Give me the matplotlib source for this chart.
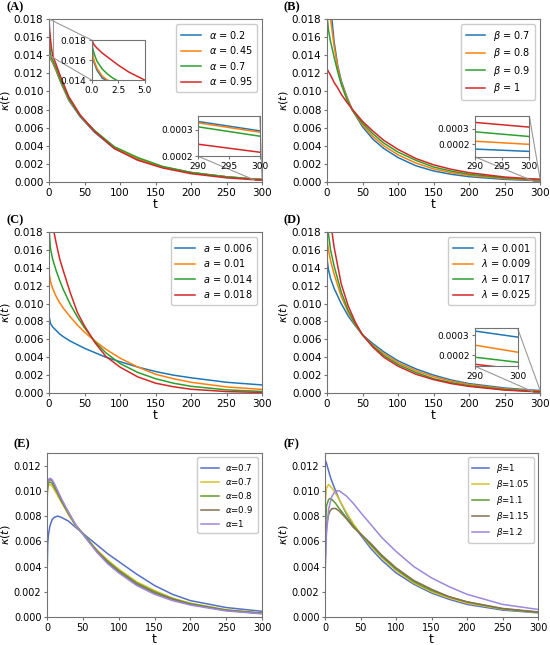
import numpy as np
import matplotlib
matplotlib.use('Agg')
import matplotlib.pyplot as plt
from matplotlib.ticker import FormatStrFormatter
from mpl_toolkits.axes_grid1.inset_locator import mark_inset

# ---- panel A: alpha ----
tA = [0, 0.1, 0.25, 0.5, 1, 1.5, 2, 2.5, 3.5, 5, 10, 16, 28, 44, 64, 92, 125, 160, 200, 250, 290, 300]
kA_02 = [0.0185, 0.0163, 0.0157, 0.0150, 0.0142, 0.0139, 0.0137, 0.0136, 0.0134, 0.0132, 0.0123, 0.0111,
         0.0090, 0.0072, 0.0055, 0.0037, 0.0025, 0.00166, 0.00104, 0.00058, 0.00033, 0.000295]
kA_045 = [0.0185, 0.0165, 0.0159, 0.0152, 0.0144, 0.0140, 0.0138, 0.0137, 0.0135, 0.0133, 0.0124, 0.0112,
          0.0091, 0.0073, 0.0056, 0.0038, 0.0026, 0.00167, 0.00104, 0.00057, 0.000325, 0.00029]
kA_07 = [0.0185, 0.0172, 0.0166, 0.0159, 0.0151, 0.0146, 0.0142, 0.0139, 0.0137, 0.0135, 0.0126, 0.0113,
         0.0092, 0.0073, 0.0057, 0.0039, 0.0027, 0.00172, 0.00106, 0.00056, 0.00031, 0.000275]
kA_095 = [0.0185, 0.0178, 0.0175, 0.0172, 0.0167, 0.0163, 0.0159, 0.0155, 0.0148, 0.0140, 0.0130, 0.0117,
          0.0094, 0.0074, 0.0056, 0.0037, 0.0024, 0.00155, 0.00092, 0.00046, 0.000245, 0.000215]
labA = [r'$\alpha$ = 0.2', r'$\alpha$ = 0.45', r'$\alpha$ = 0.7', r'$\alpha$ = 0.95']

# ---- panel B: beta ----
tB = [0, 2, 5, 10, 15, 20, 28, 36, 50, 65, 80, 100, 125, 150, 175, 200, 250, 290, 300]
kB_07 = [0.034, 0.025, 0.0195, 0.0155, 0.0129, 0.0112, 0.0094, 0.0079, 0.0061, 0.0047, 0.0037, 0.0027,
         0.0018, 0.00122, 0.00085, 0.00059, 0.00029, 0.00017, 0.000155]
kB_08 = [0.025, 0.021, 0.018, 0.0150, 0.0127, 0.0110, 0.0093, 0.0079, 0.0063, 0.0050, 0.0040, 0.0030,
         0.0021, 0.00145, 0.00103, 0.00073, 0.00038, 0.00022, 0.0002]
kB_09 = [0.0185, 0.0168, 0.0155, 0.0138, 0.0122, 0.0108, 0.0091, 0.0079, 0.0065, 0.0053, 0.0043, 0.0033,
         0.0024, 0.00166, 0.0012, 0.00086, 0.00046, 0.00028, 0.00025]
kB_1 = [0.0125, 0.0122, 0.0118, 0.0110, 0.0104, 0.0097, 0.0088, 0.0080, 0.0067, 0.0056, 0.0046, 0.0036,
        0.0026, 0.0019, 0.0014, 0.00103, 0.00055, 0.00034, 0.00031]
labB = [r'$\beta$ = 0.7', r'$\beta$ = 0.8', r'$\beta$ = 0.9', r'$\beta$ = 1']

# ---- panel C: a ----
tC = [0, 2, 5, 10, 15, 20, 30, 40, 50, 65, 80, 100, 125, 150, 175, 200, 250, 300]
kC_006 = [0.0086, 0.0078, 0.0074, 0.0070, 0.0066, 0.0063, 0.0058, 0.0054, 0.0050, 0.0045, 0.0040, 0.0035,
          0.0029, 0.0024, 0.0020, 0.0017, 0.0012, 0.0009]
kC_01 = [0.0135, 0.0125, 0.0117, 0.0108, 0.0101, 0.0095, 0.0085, 0.0076, 0.0068, 0.0058, 0.0049, 0.0039,
         0.0029, 0.0021, 0.0016, 0.0012, 0.00068, 0.00040]
kC_014 = [0.0185, 0.0162, 0.0150, 0.0137, 0.0126, 0.0116, 0.0099, 0.0085, 0.0073, 0.0057, 0.0045, 0.0033,
          0.0023, 0.0016, 0.0011, 0.00075, 0.00035, 0.00017]
kC_018 = [0.024, 0.021, 0.0188, 0.0168, 0.0150, 0.0137, 0.0112, 0.0090, 0.0075, 0.0056, 0.0041, 0.0029,
          0.0018, 0.0011, 0.0007, 0.00042, 0.00016, 0.00006]
labC = [r'$a$ = 0.006', r'$a$ = 0.01', r'$a$ = 0.014', r'$a$ = 0.018']

# ---- panel D: lambda ----
tD = [0, 2, 5, 10, 20, 30, 40, 50, 65, 80, 100, 125, 150, 175, 200, 250, 290, 300]
kD_0001 = [0.0150, 0.0138, 0.0128, 0.0117, 0.0100, 0.0086, 0.0075, 0.0065, 0.0055, 0.0046, 0.0036, 0.0027,
           0.0020, 0.00145, 0.00105, 0.00056, 0.00032, 0.00029]
kD_0009 = [0.0172, 0.0160, 0.0148, 0.0133, 0.0108, 0.0090, 0.0076, 0.0065, 0.0053, 0.0044, 0.0034, 0.0025,
           0.00182, 0.00132, 0.00095, 0.00046, 0.00025, 0.000215]
kD_0017 = [0.0195, 0.0178, 0.0160, 0.0142, 0.0113, 0.0092, 0.0077, 0.0065, 0.0052, 0.0042, 0.0032, 0.0023,
           0.0016, 0.00115, 0.00082, 0.00038, 0.00019, 0.000165]
kD_0025 = [0.026, 0.0225, 0.0192, 0.0163, 0.0122, 0.0097, 0.0079, 0.0065, 0.0051, 0.0040, 0.0030, 0.0021,
           0.0015, 0.00105, 0.00074, 0.00033, 0.000155, 0.00013]
labD = [r'$\lambda$ = 0.001', r'$\lambda$ = 0.009', r'$\lambda$ = 0.017', r'$\lambda$ = 0.025']

# ---- panel E: alpha (hump) ----
tE = [0, 1, 2, 4, 7, 10, 15, 20, 30, 40, 55, 70, 85, 100, 125, 150, 175, 200, 250, 300]
kE_1 = [0.0030, 0.0058, 0.0065, 0.0072, 0.0077, 0.0079, 0.0080, 0.0079, 0.0076, 0.0071, 0.0064, 0.0057,
        0.0050, 0.0044, 0.0034, 0.0025, 0.0018, 0.0013, 0.00075, 0.00045]
kE_2 = [0.0092, 0.0102, 0.0104, 0.0105, 0.0104, 0.0101, 0.0096, 0.0091, 0.0081, 0.0072, 0.0063, 0.0053,
        0.0045, 0.0038, 0.0028, 0.0021, 0.0015, 0.0011, 0.00058, 0.00032]
kE_3 = [0.0094, 0.0104, 0.0106, 0.0107, 0.0106, 0.0103, 0.0098, 0.0092, 0.0082, 0.0073, 0.0063, 0.0052,
        0.0044, 0.0037, 0.0027, 0.0020, 0.00145, 0.00105, 0.00055, 0.0003]
kE_4 = [0.0096, 0.0106, 0.0108, 0.0109, 0.0108, 0.0105, 0.0099, 0.0093, 0.0083, 0.0073, 0.0062, 0.0052,
        0.0043, 0.0036, 0.0026, 0.0019, 0.0014, 0.0010, 0.00052, 0.00028]
kE_5 = [0.0098, 0.0107, 0.0109, 0.0110, 0.0109, 0.0106, 0.0100, 0.0094, 0.0083, 0.0073, 0.0062, 0.0051,
        0.0042, 0.0035, 0.0025, 0.0018, 0.0013, 0.00095, 0.00048, 0.00025]
labE = [r'$\alpha$=0.7', r'$\alpha$=0.7', r'$\alpha$=0.8', r'$\alpha$=0.9', r'$\alpha$=1']

# ---- panel F: beta (hump) ----
tF = [0, 2, 5, 7, 10, 15, 20, 30, 40, 50, 65, 80, 100, 125, 150, 175, 200, 250, 300]
kF_1 = [0.0125, 0.0122, 0.0116, 0.0112, 0.0107, 0.0100, 0.0093, 0.0082, 0.0073, 0.0065, 0.0054, 0.0045,
        0.0035, 0.0026, 0.0019, 0.0014, 0.0010, 0.00055, 0.00033]
kF_105 = [0.0088, 0.0102, 0.0105, 0.0104, 0.0102, 0.0098, 0.0093, 0.0083, 0.0074, 0.0066, 0.0056, 0.0047,
          0.0037, 0.0027, 0.0020, 0.0015, 0.0011, 0.00062, 0.00036]
kF_11 = [0.0055, 0.0088, 0.0093, 0.0094, 0.0093, 0.0090, 0.0086, 0.0079, 0.0072, 0.0066, 0.0057, 0.0048,
         0.0038, 0.0028, 0.0021, 0.0016, 0.0012, 0.00065, 0.00038]
kF_115 = [0.0040, 0.0072, 0.0081, 0.0084, 0.0086, 0.0086, 0.0084, 0.0078, 0.0071, 0.0066, 0.0058, 0.0049,
          0.0039, 0.0029, 0.0022, 0.0016, 0.0012, 0.00068, 0.0004]
kF_12 = [0.0030, 0.0065, 0.0085, 0.0090, 0.0096, 0.0100, 0.0100, 0.0096, 0.0090, 0.0083, 0.0073, 0.0063,
         0.0052, 0.0040, 0.0031, 0.0024, 0.0018, 0.0010, 0.0006]
labF = [r'$\beta$=1', r'$\beta$=1.05', r'$\beta$=1.1', r'$\beta$=1.15', r'$\beta$=1.2']

tab4 = ['#1f77b4', '#ff7f0e', '#2ca02c', '#d62728']
muted5 = ['#5470c6', '#d4c22a', '#5e9a30', '#85704f', '#9c88dc']
spine_c = '0.45'

W, H = 550, 645
fig = plt.figure(figsize=(5.5, 6.45), dpi=100)


def px_rect(left, right, top, bottom):
    # axes box given in picture pixels
    return [left / W, 1 - bottom / H, (right - left) / W, (bottom - top) / H]


def style(ax, fs):
    for s in ax.spines.values():
        s.set_color(spine_c)
    ax.tick_params(labelsize=fs, length=2.5, width=0.8, color=spine_c, pad=1.5)


def main_panel(rect, t, series, labels, colors, ymax, yticks, fs_tick, fs_leg):
    ax = fig.add_axes(rect)
    for k, lab, c in zip(series, labels, colors):
        ax.plot(t, k, color=c, lw=1.1, label=lab)
    ax.set_xlim(0, 300)
    ax.set_ylim(0, ymax)
    ax.set_xticks([0, 50, 100, 150, 200, 250, 300])
    ax.set_yticks(yticks)
    ax.yaxis.set_major_formatter(FormatStrFormatter('%.3f'))
    style(ax, fs_tick)
    ax.set_xlabel('t', fontsize=9, labelpad=0)
    ax.set_ylabel(r'$\kappa(t)$', fontsize=8, labelpad=1)
    ax.legend(loc='upper right', fontsize=fs_leg, labelspacing=0.35, handlelength=2.0,
              borderpad=0.5, framealpha=1, edgecolor='0.8', fancybox=True)
    return ax


def inset(ax, rect, t, series, colors, xlim, ylim, xticks, yticks, yfmt, loc1, loc2):
    axi = ax.inset_axes(rect)
    for k, c in zip(series, colors):
        axi.plot(t, k, color=c, lw=1.1)
    axi.set_xlim(*xlim)
    axi.set_ylim(*ylim)
    axi.set_xticks(xticks)
    axi.set_yticks(yticks)
    axi.yaxis.set_major_formatter(FormatStrFormatter(yfmt))
    style(axi, 6.5)
    mark_inset(ax, axi, loc1=loc1, loc2=loc2, fc='none', ec='0.6', lw=0.8)
    return axi


yt18 = np.arange(0, 0.0181, 0.002)
yt12 = np.arange(0, 0.0121, 0.002)

axA = main_panel(px_rect(49, 262, 19, 182), tA, [kA_02, kA_045, kA_07, kA_095], labA, tab4,
                 0.018, yt18, 7.5, 7)
axB = main_panel(px_rect(327, 540, 19, 182), tB, [kB_07, kB_08, kB_09, kB_1], labB, tab4,
                 0.018, yt18, 7.5, 7)
axC = main_panel(px_rect(49, 262, 232, 393), tC, [kC_006, kC_01, kC_014, kC_018], labC, tab4,
                 0.018, yt18, 7.5, 7)
axD = main_panel(px_rect(327, 540, 232, 393), tD, [kD_0001, kD_0009, kD_0017, kD_0025], labD, tab4,
                 0.018, yt18, 7.5, 7)
axE = main_panel(px_rect(47, 262, 453, 617), tE, [kE_1, kE_2, kE_3, kE_4, kE_5], labE, muted5,
                 0.013, yt12, 7, 6.2)
axF = main_panel(px_rect(325, 538, 453, 617), tF, [kF_1, kF_105, kF_11, kF_115, kF_12], labF, muted5,
                 0.013, yt12, 7, 6.2)

inset(axA, [0.20, 0.625, 0.25, 0.246], tA, [kA_02, kA_045, kA_07, kA_095], tab4,
      (0, 5), (0.014, 0.018), [0, 2.5, 5], [0.014, 0.016, 0.018], '%.3f', 2, 3)
inset(axA, [0.70, 0.158, 0.29, 0.246], tA, [kA_02, kA_045, kA_07, kA_095], tab4,
      (290, 300), (0.0002, 0.00035), [290, 295, 300], [0.0002, 0.0003], '%.4f', 1, 3)
inset(axB, [0.695, 0.154, 0.255, 0.25], tB, [kB_07, kB_08, kB_09, kB_1], tab4,
      (290, 300), (0.00012, 0.00038), [290, 295, 300], [0.0002, 0.0003], '%.4f', 1, 3)
inset(axD, [0.695, 0.166, 0.2, 0.235], tD, [kD_0001, kD_0009, kD_0017, kD_0025], tab4,
      (290, 300), (0.000145, 0.000333), [290, 300], [0.0002, 0.0003], '%.4f', 1, 3)

# panel tags
for tag, x, y in [('(A)', 6, 1), ('(B)', 284, 1), ('(C)', 6, 214),
                  ('(D)', 284, 214), ('(E)', 14, 438), ('(F)', 284, 438)]:
    fig.text(x / W, 1 - y / H, tag, fontsize=9, fontweight='bold',
             family='Liberation Serif', va='top', ha='left')

fig.savefig('out.png', dpi=100)
